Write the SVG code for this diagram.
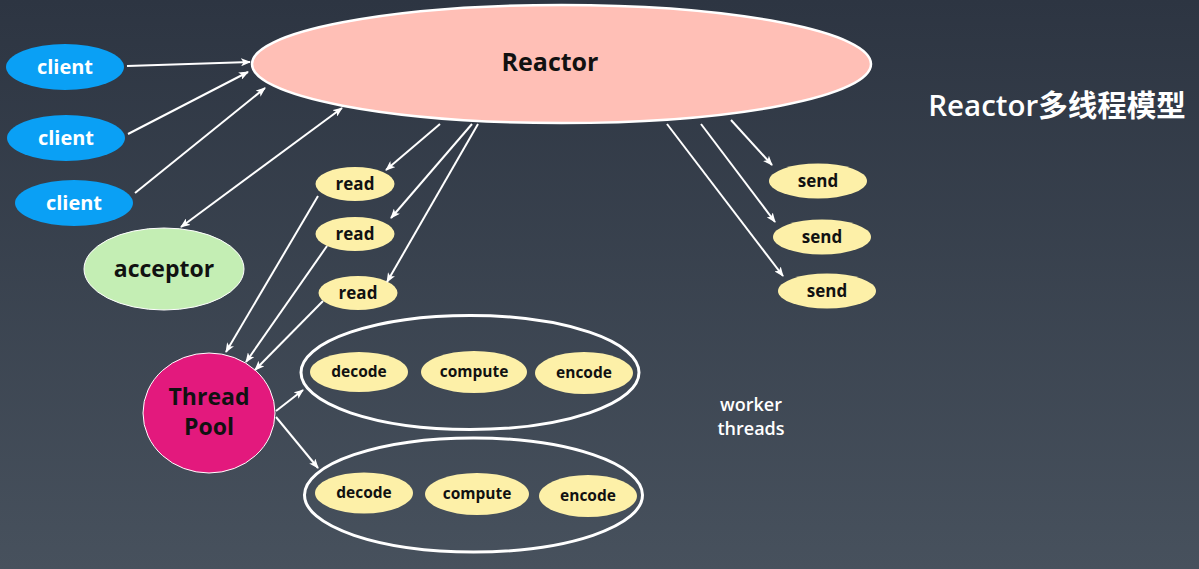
<svg xmlns="http://www.w3.org/2000/svg" width="1199" height="569" viewBox="0 0 1199 569">
<defs>
<linearGradient id="bg" x1="0" y1="0" x2="0" y2="1">
<stop offset="0" stop-color="#2d3542"/>
<stop offset="1" stop-color="#47515d"/>
</linearGradient>
<marker id="ah" markerWidth="10" markerHeight="8" refX="9" refY="4" orient="auto" markerUnits="userSpaceOnUse">
<path d="M0,0 L10,4 L0,8 L2.5,4 Z" fill="#ffffff"/>
</marker>
<marker id="ahs" markerWidth="10" markerHeight="8" refX="1" refY="4" orient="auto" markerUnits="userSpaceOnUse">
<path d="M10,0 L0,4 L10,8 L7.5,4 Z" fill="#ffffff"/>
</marker>
</defs>
<style>
text{font-family:"Open Sans","Noto Sans","Noto Sans CJK SC",sans-serif;text-anchor:middle;font-weight:700}
.client ellipse{fill:#0aa0f5}
.client text{fill:#ffffff;font-size:20px}
.task ellipse{fill:#fdf0a8}
.task text{fill:#111111;font-size:17px}
.work ellipse{fill:#fdf0a8}
.work text{fill:#111111;font-size:15.5px}
.grp{fill:none;stroke:#ffffff;stroke-width:3}
text.lbl{fill:#ffffff;font-size:18px;font-weight:600}
text.title{fill:#ffffff;font-size:29.5px;font-weight:600}
#connectors line{stroke:#ffffff;stroke-width:2;marker-end:url(#ah)}
</style>
<rect width="1199" height="569" fill="url(#bg)"/>

<g id="reactor">
<ellipse cx="561.5" cy="64" rx="309.5" ry="59" fill="#ffbfb6" stroke="#ffffff" stroke-width="2.5"/>
<text x="550" y="71" font-size="25" fill="#111111">Reactor</text>
</g>

<g id="client1" class="client"><ellipse cx="65" cy="67" rx="59" ry="23"/><text x="65" y="74">client</text></g>
<g id="client2" class="client"><ellipse cx="66" cy="138" rx="59" ry="23"/><text x="66" y="145">client</text></g>
<g id="client3" class="client"><ellipse cx="74" cy="203" rx="59" ry="23"/><text x="74" y="210">client</text></g>

<g id="acceptor">
<ellipse cx="164" cy="269" rx="80" ry="41" fill="#c4eeb4" stroke="#ffffff" stroke-width="1"/>
<text x="164" y="277" font-size="23" fill="#111111">acceptor</text>
</g>

<g id="read1" class="task"><ellipse cx="355" cy="184" rx="39.5" ry="17"/><text x="355" y="190">read</text></g>
<g id="read2" class="task"><ellipse cx="355" cy="234" rx="39.5" ry="17"/><text x="355" y="240">read</text></g>
<g id="read3" class="task"><ellipse cx="358" cy="293" rx="39.5" ry="17"/><text x="358" y="299">read</text></g>

<g id="send1" class="task"><ellipse cx="818" cy="181" rx="49" ry="17.5"/><text x="818" y="187">send</text></g>
<g id="send2" class="task"><ellipse cx="822" cy="237" rx="49" ry="17.5"/><text x="822" y="243">send</text></g>
<g id="send3" class="task"><ellipse cx="827" cy="291" rx="49" ry="17.5"/><text x="827" y="297">send</text></g>

<g id="threadpool">
<ellipse cx="209" cy="413" rx="66" ry="60" fill="#e3197d" stroke="#ffffff" stroke-width="1"/>
<text x="209" y="405" font-size="23" fill="#111111">Thread</text>
<text x="209" y="435" font-size="23" fill="#111111">Pool</text>
</g>

<g id="worker1">
<ellipse class="grp" cx="470" cy="372.5" rx="169" ry="57"/>
<g class="work"><ellipse cx="359" cy="372" rx="49" ry="20"/><text x="359" y="377">decode</text></g>
<g class="work"><ellipse cx="474" cy="372" rx="53" ry="21"/><text x="474" y="377">compute</text></g>
<g class="work"><ellipse cx="584" cy="373" rx="49" ry="21"/><text x="584" y="378">encode</text></g>
</g>

<g id="worker2">
<ellipse class="grp" cx="473.5" cy="495" rx="169" ry="57"/>
<g class="work"><ellipse cx="364" cy="493" rx="49" ry="20.5"/><text x="364" y="498">decode</text></g>
<g class="work"><ellipse cx="477" cy="494" rx="52" ry="21"/><text x="477" y="499">compute</text></g>
<g class="work"><ellipse cx="588" cy="496" rx="49" ry="21"/><text x="588" y="501">encode</text></g>
</g>

<g id="labels">
<text class="lbl" x="751" y="411">worker</text>
<text class="lbl" x="751" y="435">threads</text>
<text class="title" x="1057" y="116">Reactor多线程模型</text>
</g>

<g id="connectors">
<line x1="127" y1="66" x2="250" y2="62"/>
<line x1="128" y1="134" x2="248" y2="72"/>
<line x1="135" y1="193" x2="265" y2="88"/>
<line x1="181" y1="227" x2="342" y2="108" style="marker-start:url(#ahs)"/>
<line x1="440" y1="124" x2="386" y2="170"/>
<line x1="472" y1="124" x2="391" y2="218"/>
<line x1="478" y1="124" x2="387" y2="282"/>
<line x1="318" y1="196" x2="226" y2="352"/>
<line x1="327" y1="246" x2="246" y2="362"/>
<line x1="323" y1="301" x2="255" y2="370"/>
<line x1="731" y1="120" x2="772" y2="165"/>
<line x1="701" y1="124" x2="775" y2="222"/>
<line x1="667" y1="124" x2="783" y2="276"/>
<line x1="276" y1="411" x2="303" y2="390"/>
<line x1="276" y1="417" x2="318" y2="468"/>
</g>
</svg>
